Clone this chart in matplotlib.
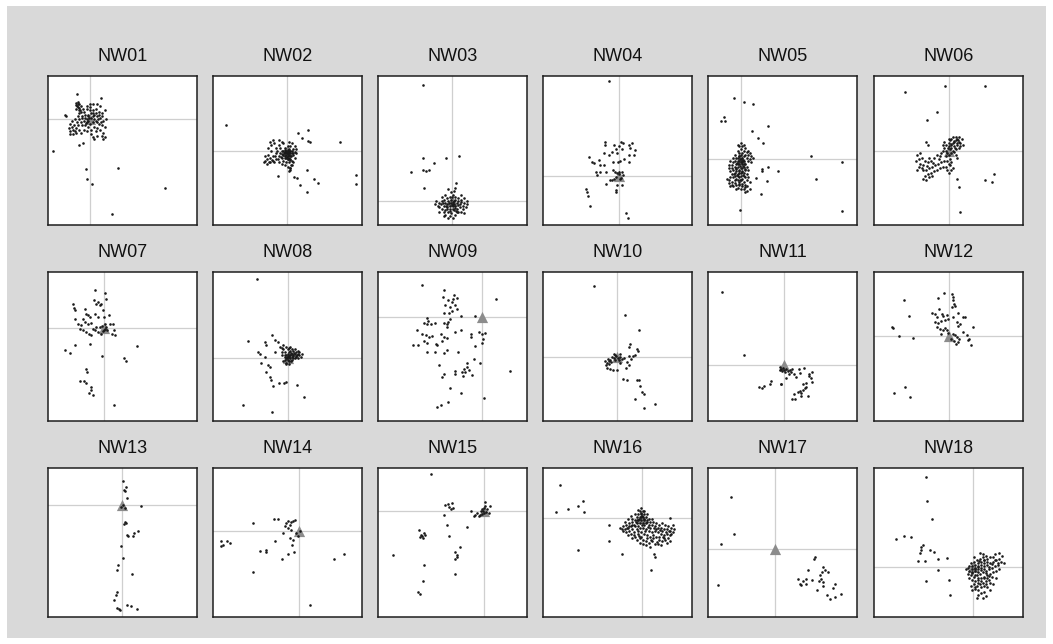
import matplotlib.pyplot as plt
from matplotlib.patches import Rectangle

# panel names and crosshair centre (x, y) of each panel, y counted from the top
names = ["NW%02d" % i for i in range(1, 19)]
centres = [(28.2, 29.0), (49.9, 50.4), (49.8, 83.7), (50.8, 67.2), (22.3, 55.8), (50.4, 50.4),
           (37.6, 37.6), (50.3, 57.7), (69.9, 30.2), (49.7, 57.0), (50.7, 62.6), (50.3, 43.2),
           (49.7, 25.1), (57.5, 42.5), (71.4, 28.6), (66.4, 33.3), (45.3, 54.4), (66.4, 66.4)]

nw01 = [(19, 18), (20, 19), (19.5, 20), (21, 19), (20, 21), (21, 21.5), (22, 20), (19, 22), (20.5, 23),
        (21.5, 22.5), (18.5, 19.5), (22, 24), (20, 17.5), (24, 24), (26, 22), (28, 21), (30, 23), (32, 22),
        (34, 24), (36, 25), (38, 23), (35, 28), (37, 30), (39, 29), (33, 27), (31, 26), (29, 25), (27, 27),
        (25, 28), (23, 27), (24, 30), (26, 31), (28, 32), (30, 31), (32, 30), (34, 32), (36, 33), (38, 34),
        (35, 36), (33, 35), (31, 34), (29, 36), (27, 34), (25, 33), (23, 33), (22, 31), (21, 29), (20, 27),
        (18, 29), (16, 30), (15, 32), (16, 34), (17, 36), (15, 37), (14, 35), (18, 37), (19, 38), (17, 39),
        (15, 39), (20, 33), (19, 35), (21, 36), (29, 39), (30, 41), (31, 42), (33, 40), (36, 40), (37, 38),
        (38, 41), (37, 42), (26, 37), (24, 36), (22, 38), (27, 30), (29, 28), (30, 27), (27, 26), (26, 29),
        (31, 29), (28, 23), (32, 25), (34, 26), (36, 27), (33, 31), (12, 27), (35, 20), (33, 19), (28, 19),
        (26, 20), (30, 19), (22.5, 28), (24.5, 26), (27.5, 28.5), (30.5, 25), (33.5, 29), (25.5, 31.5),
        (19.5, 31), (17.5, 33), (20.5, 25), (23.5, 22), (35.5, 31), (32.5, 37), (19.7, 11.8), (35.3, 14.7),
        (11.6, 26), (3.6, 50), (20.8, 46.4), (23.5, 44.9), (25.3, 62.5), (26, 68.8), (29.8, 72.5),
        (47.2, 61.6), (78.7, 75.2), (43.2, 92.9)]

nw02 = [(50, 52), (51, 51), (52, 52), (49, 53), (50, 54), (52, 54), (53, 50), (51, 49), (49, 50), (48, 52),
        (47, 53), (48, 55), (50, 56), (52, 56), (54, 53), (55, 51), (54, 49), (52, 47), (50, 47), (48, 48),
        (46, 50), (45, 52), (44, 54), (46, 55), (47, 57), (49, 58), (51, 58), (53, 57), (55, 55), (56, 52),
        (53, 45), (51, 44), (47, 45), (44, 46), (42, 48), (41, 45), (40, 43), (38, 44), (42, 52), (40, 54),
        (38, 55), (37, 53), (36, 56), (35, 57), (34, 58), (36, 59), (38, 58), (40, 57), (42, 56), (44, 58),
        (46, 59), (48, 60), (50, 61), (52, 62), (53, 60), (49, 51), (51, 53), (50, 50), (52, 50), (48, 51),
        (51, 55), (49, 55), (53, 52), (47, 50), (45, 48), (43, 50), (39, 50), (37, 48), (41, 58), (35, 54),
        (54, 58), (55, 47), (56, 49), (52, 63), (51, 64), (44, 43), (46, 44), (39, 46), (49.5, 51.5),
        (50.5, 52.5), (51.5, 50.5), (48.5, 53.5), (50.5, 49.5), (52.5, 53.5), (49.5, 54.5), (51.5, 56.5),
        (47.5, 51.5), (53.5, 51.5), (50.5, 55.5), (48.5, 49.5), (46.5, 52.5), (45.5, 54.5), (43.5, 55.5),
        (41.5, 53.5), (39.5, 56.5), (37.5, 57.5), (8.5, 33), (56.9, 38), (64, 36.2), (59.6, 41.9),
        (63.6, 43.8), (65.2, 44.2), (85.4, 44.6), (43.8, 67.2), (54.6, 67.6), (56.2, 68.3), (62.9, 63.2),
        (58.4, 73.2), (68, 69.4), (70.8, 71.7), (63.4, 78.1), (96.2, 66.5), (96, 72.5), (52, 61.6),
        (52.6, 59.8)]

nw03 = [(50, 86), (48, 87), (46, 88), (44, 87), (42, 86), (45, 85), (47, 84), (49, 83), (51, 84), (53, 85),
        (55, 86), (57, 87), (58, 85), (56, 83), (54, 82), (52, 81), (50, 80), (48, 81), (46, 82), (44, 83),
        (43, 84), (41, 85), (40, 87), (41, 88), (43, 89), (45, 90), (47, 91), (49, 92), (51, 90), (53, 89),
        (55, 88), (57, 89), (59, 88), (60, 86), (54, 91), (52, 93), (48, 94), (45, 93), (44, 91), (50, 89),
        (52, 87), (54, 84), (49, 78), (51, 77), (47, 76), (52, 75), (45, 80), (43, 81), (39, 84), (38, 86),
        (56, 80), (58, 82), (60, 84), (49, 85), (50, 87), (51, 86), (48, 89), (46, 86), (52, 83), (53, 91),
        (56, 91), (58, 92), (44, 94), (47, 95), (50, 95), (41, 91), (49.5, 86.5), (47.5, 85.5), (51.5, 88.5),
        (45.5, 87.5), (53.5, 86.5), (48.5, 90.5), (50.5, 84.5), (46.5, 89.5), (52.5, 90.5), (55.5, 84.5),
        (43.5, 85.5), (49.5, 81.5), (30.1, 5.8), (30.1, 54.7), (45.8, 54.9), (54.2, 53.6), (37.5, 58.7),
        (21.9, 64.1), (30.4, 63.2), (32.1, 63.6), (34.2, 63.2), (30.6, 75.2), (52.2, 71.7)]

nw04 = [(41.4, 44.2), (41.8, 46.4), (47.7, 46), (52.3, 44.6), (53.7, 45.3), (50.8, 47.3), (49.2, 48.9),
        (52.8, 49.3), (57.5, 46), (59.7, 45.3), (58.6, 48.2), (62, 49.6), (61, 53.1), (57.5, 53.1),
        (57.5, 57.6), (54.1, 55.8), (49.7, 52), (46.3, 50.9), (44.5, 52.7), (40.7, 52), (37.4, 56.5),
        (38.5, 59.4), (40.7, 59.8), (47, 57.6), (50.6, 58), (51.9, 57.1), (35.3, 64.3), (36, 66.3),
        (38.5, 64.7), (42.1, 64.3), (47.2, 63.2), (48.3, 64.3), (49.4, 65.4), (51.2, 64.3), (52.8, 64.7),
        (53.5, 66.5), (50.8, 66.1), (49, 67.6), (47.9, 69.2), (46.3, 69.9), (49.4, 73.2), (49, 76.6),
        (48.8, 77.7), (52.8, 73.2), (42.4, 72.3), (45.2, 69.9), (51.9, 68.8), (52.3, 68.3), (44.1, 3.6),
        (28.9, 75.9), (29.5, 78.1), (30.4, 80.4), (31.3, 87.1), (55.9, 92.2), (57, 95.1), (30.6, 54.2),
        (33, 58), (34, 58.7)]

nw05 = [(22, 56), (21, 54), (23, 55), (24, 57), (20, 57), (19, 55), (21, 52), (23, 52), (25, 53), (26, 55),
        (27, 57), (25, 59), (23, 59), (21, 59), (19, 59), (18, 57), (17, 55), (18, 53), (20, 50), (22, 49),
        (24, 50), (26, 51), (27, 53), (28, 56), (29, 58), (26, 61), (24, 61), (22, 62), (20, 61), (18, 61),
        (16, 60), (17, 63), (19, 64), (21, 65), (23, 64), (25, 63), (27, 63), (26, 66), (24, 67), (22, 67),
        (20, 67), (18, 67), (16, 66), (15, 68), (14, 70), (16, 71), (18, 70), (20, 70), (22, 70), (24, 71),
        (26, 70), (25, 73), (23, 74), (21, 73), (19, 73), (17, 74), (19, 76), (22, 76), (24, 76), (26, 77),
        (14, 72), (13, 69), (15, 64), (14, 62), (23, 47), (25, 48), (21, 47), (20, 46), (22, 45), (24, 46),
        (27, 50), (28, 52), (30, 55), (29, 54), (22, 58), (20, 55), (24, 54), (21, 57), (23, 57), (22, 53),
        (20, 59), (24, 59), (19, 62), (23, 62), (21, 63), (17, 58), (15, 57), (14, 60), (16, 62), (18, 65),
        (20, 66), (22, 65), (24, 65), (25, 68), (27, 68), (28, 71), (21, 68), (19, 69), (17, 68), (23, 69),
        (26, 74), (16, 73), (15, 74), (28, 76), (25, 78), (21, 71), (20, 75), (18, 72), (21.5, 55.5),
        (22.5, 57.5), (20.5, 53.5), (23.5, 56.5), (19.5, 58.5), (21.5, 60.5), (23.5, 60.5), (20.5, 63.5),
        (22.5, 64.5), (18.5, 62.5), (24.5, 62.5), (19.5, 66.5), (21.5, 69.5), (23.5, 66.5), (17.5, 65.5),
        (20.5, 72.5), (22.5, 72.5), (24.5, 74.5), (17.2, 14.7), (24.1, 17.6), (30.1, 18.5), (10.5, 27.5),
        (8.9, 30.1), (11.2, 29.9), (40.2, 33.7), (29.2, 36.8), (33.5, 41.5), (36.8, 45.3), (68.8, 54),
        (89.7, 58), (40.2, 60.9), (46.7, 63.6), (36.2, 62.2), (36.2, 63.6), (31.9, 68.3), (39.3, 70.5),
        (72.3, 68.8), (35.9, 79.2), (21.4, 89.7), (89.7, 90.8)]

nw06 = [(50, 47), (52, 46), (53, 45), (54, 44), (55, 43), (56, 42), (57, 44), (58, 45), (56, 46), (54, 47),
        (52, 48), (51, 49), (53, 50), (55, 49), (57, 48), (54, 51), (52, 52), (50, 53), (49, 52), (48, 50),
        (47, 48), (48, 46), (50, 45), (51, 43), (52, 42), (53, 41), (50, 42), (55, 41), (57, 41), (59, 42),
        (46, 50), (45, 52), (44, 54), (42, 53), (40, 55), (38, 57), (37, 55), (36, 58), (34, 57), (33, 60),
        (31, 59), (30, 61), (33, 63), (35, 63), (37, 62), (39, 61), (41, 60), (43, 59), (45, 58), (47, 57),
        (49, 57), (51, 56), (52, 58), (50, 59), (48, 61), (46, 61), (44, 62), (42, 63), (40, 64), (38, 65),
        (36, 66), (34, 67), (33, 69), (35, 70), (37, 68), (39, 67), (29, 63), (28, 57), (30, 56), (32, 55),
        (29, 53), (31, 52), (51, 60), (49, 63), (52, 63), (50, 65), (53, 62), (48, 54), (55, 53), (56, 55),
        (58, 47), (60, 46), (47, 44), (46, 46), (53.5, 43.5), (55.5, 45), (51.5, 45.5), (49.5, 48),
        (54.5, 48.5), (56.5, 43), (43.5, 56), (39.5, 58.5), (35.5, 60.5), (32.5, 61.5), (20.8, 10.7),
        (47.5, 6.9), (74.8, 6.7), (42.6, 24.1), (35.9, 29.7), (34.8, 44.2), (36.4, 46), (55.8, 68.8),
        (57.1, 74.3), (58, 91.1), (80.6, 65.8), (74.8, 69.9), (79.5, 71.2)]

nw07 = [(31.8, 11.9), (38, 14.1), (38.7, 17.9), (33.6, 20.1), (34.7, 22.4), (30.9, 19), (32.4, 21.3),
        (35.8, 21.3), (36.9, 25.7), (16.8, 21.3), (17.5, 23.9), (17.9, 25.7), (24.6, 24.6), (25.7, 27.9),
        (26.8, 29), (27.9, 30.2), (23.5, 31.3), (31.3, 27.9), (33.6, 30.2), (37.6, 30.2), (40.9, 29),
        (17.9, 31.3), (20.1, 35.1), (22.4, 35.8), (21.3, 38), (23.5, 38.7), (25.7, 40.3), (27.5, 41.4),
        (28.6, 42.5), (30.2, 38), (32.4, 36.7), (34.7, 37.1), (36.2, 36.2), (38, 35.1), (39.1, 36.9),
        (39.8, 39.1), (36.9, 39.8), (35.8, 41.4), (33.6, 40.3), (31.3, 39.1), (41.4, 34.7), (43.6, 35.1),
        (44.1, 39.1), (44.7, 42.5), (42.9, 41.4), (29, 34.2), (26.8, 35.1), (24.6, 33.6), (37.6, 38.7),
        (38.5, 38), (11.6, 52.1), (14.5, 54.4), (17.9, 49.2), (28, 48.5), (36.2, 56.6), (60, 49.7),
        (51, 57.5), (52.6, 60), (25.7, 64.9), (26.2, 67.1), (21.3, 73.2), (24.2, 73.4), (25.7, 74.5),
        (29, 77.2), (28.6, 79.4), (27.4, 81), (30.4, 82.8), (44.3, 89.5)]

nw08 = [(50, 55), (51, 54), (52, 53), (53, 52), (54, 53), (55, 52), (56, 54), (57, 55), (58, 56), (56, 57),
        (54, 56), (52, 56), (50, 57), (49, 58), (48, 59), (47, 60), (49, 61), (51, 60), (53, 59), (55, 58),
        (57, 58), (59, 57), (53, 55), (51, 57), (49, 56), (48, 54), (47, 52), (46, 51), (45, 50), (47, 49),
        (49, 50), (51, 51), (52, 50), (50, 52), (48, 57), (46, 56), (52, 58), (54, 58), (55, 55), (53, 57),
        (50, 59), (51, 62), (49, 62), (57, 53), (58, 54), (60, 55), (46, 54), (51.5, 55.5), (53.5, 56.5),
        (55.5, 56.5), (52.5, 54.5), (50.5, 56.5), (54.5, 54.5), (56.5, 55.5), (49.5, 57.5), (48.5, 55.5),
        (52.5, 59.5), (29.5, 4.9), (23.5, 46.5), (39.6, 42.1), (34.7, 47), (35.8, 49.2), (41.4, 45.9),
        (43.6, 47), (30.2, 53.7), (31.3, 54.8), (34.7, 57), (32.4, 61.1), (36.9, 62.6), (38, 63.8),
        (35.8, 67.1), (38, 70.5), (39.1, 72.7), (40.3, 76.5), (44.1, 74.5), (47.7, 74.5), (49.2, 74.1),
        (56.4, 75.8), (41.4, 53.7), (20.3, 89.5), (39.7, 94), (61.2, 83.7)]

nw09 = [(29.2, 8.9), (44.6, 12.3), (43.8, 16.8), (46.9, 19), (50.4, 17.9), (51.3, 15.7), (53.1, 17.4),
        (49.8, 20.1), (45.3, 22.4), (48.2, 23.5), (52, 22.4), (52.7, 24.8), (44.2, 27.3), (47.5, 27.5),
        (49.8, 26.2), (55.4, 29.8), (65.4, 29.8), (79.2, 18.3), (33, 30.6), (33.5, 32.9), (30.8, 34),
        (32.6, 34.7), (35.3, 34.7), (38.2, 34.2), (44.6, 34.2), (46, 35.1), (46.9, 33.6), (48.2, 31.3),
        (46, 36.9), (52, 40.3), (55.4, 38.7), (25.9, 39.1), (29.2, 41.4), (31.9, 42.5), (34.2, 43.6),
        (36.4, 42.7), (42, 41.4), (44.2, 43.6), (46.4, 44.1), (62.1, 41.8), (62.1, 43.6), (67.6, 40.3),
        (69.9, 41.4), (71.7, 40.9), (70.5, 45.2), (70.1, 47.4), (23.7, 48.8), (27, 49.2), (30.8, 46.5),
        (33, 47.7), (38.6, 48.3), (39.7, 48.8), (43.1, 46.3), (46.4, 52.1), (65, 49.9), (33, 53.7),
        (38.2, 53.7), (44.2, 54.4), (53.6, 53.7), (64.3, 58.6), (68.3, 61.1), (40.8, 62.2), (59.4, 61.1),
        (59.8, 63.8), (57.6, 65.3), (56.5, 67.1), (58.7, 67.1), (60.9, 65.5), (52, 66.7), (52, 68.2),
        (57.1, 70), (44.6, 68.7), (43.1, 70.5), (63.2, 69.4), (88.6, 66.7), (48.2, 77.9), (55.7, 81),
        (42.6, 89.3), (47.3, 87), (39.7, 90.4), (71.3, 84.3)]

nw10 = [(34, 9.4), (54.8, 28.6), (64.2, 38.7), (58.2, 48.5), (57.6, 50.3), (63.1, 51.5), (63.8, 53.2),
        (62, 55.9), (60.4, 56.6), (57.6, 56.4), (58.8, 58.2), (56.4, 60.4), (57.6, 62.6), (55.4, 64.2),
        (51.9, 61.1), (50.8, 58.8), (48.5, 55.9), (47.4, 57.5), (46.3, 57), (45.2, 58.8), (44.1, 59.7),
        (43, 61.1), (42.5, 62.6), (43, 64.2), (45.2, 64.9), (47, 66), (49.7, 66), (53.9, 71.6), (56.2, 72.3),
        (63.1, 72.3), (64.7, 72.7), (65.3, 76.7), (66.7, 80.5), (49.2, 56.6), (50.1, 57.5), (51.9, 57),
        (53, 58.2), (54.1, 57.5), (48.1, 59.3), (45.9, 60.4), (43.6, 58.2), (44.3, 61.5), (41.6, 59.7),
        (51.5, 55.3), (47.4, 55.3), (67.9, 82.1), (61.6, 85), (67.9, 91), (75.5, 88.8)]

nw11 = [(9.4, 13.4), (23.9, 55.5), (48, 63.8), (49.1, 64.9), (50.2, 64.2), (51.3, 65.5), (52.5, 64.9),
        (53.6, 66.4), (55.1, 65.5), (55.8, 67.1), (54.2, 68.2), (56.5, 64.9), (52, 67.1), (49.8, 66.4),
        (48.4, 66), (58, 68.7), (59.2, 70.5), (61.4, 64.9), (61.8, 67.8), (64.7, 64.2), (67.6, 68.2),
        (68.1, 70), (69.9, 67.1), (69.9, 73.8), (63.6, 74.9), (65.8, 77.2), (63.6, 79.4), (61.8, 79.9),
        (42.4, 73.2), (41.3, 74.9), (37.5, 76.7), (34.2, 77.2), (49.1, 74.9), (36.4, 78.1), (57.6, 82.1),
        (60.6, 80.5), (62.7, 81), (64.8, 77.6), (66.1, 74.3), (69.1, 70.9), (58.5, 85.5), (56.4, 85),
        (62.7, 83.2), (66.9, 83.2), (48.7, 75.4), (52.1, 70.9)]

nw12 = [(47, 13.9), (52.1, 14.5), (52.8, 16.8), (53.3, 19), (53.7, 21.3), (52.1, 23.5), (54.4, 23),
        (43, 17.2), (20.4, 19), (23.5, 29.8), (12.3, 36.9), (13, 37.4), (17, 43), (26.4, 44.1), (38.7, 27.5),
        (41, 28.4), (43.8, 24.6), (45.4, 28.2), (46.5, 29.3), (48.8, 28.6), (42.1, 30.2), (41, 33.6),
        (43.2, 34.2), (44.7, 32.9), (47.7, 32.4), (49.9, 31.3), (52.8, 30.2), (56.6, 27.5), (59.9, 30.2),
        (61, 30.2), (55.5, 33.6), (57.7, 35.1), (56.6, 36.5), (42.1, 36.9), (44.3, 38), (46.1, 39.1),
        (47.7, 37.4), (48.8, 39.1), (49.9, 40.9), (45.2, 41.4), (52.8, 41.4), (54.4, 42.5), (55.7, 43.6),
        (57.3, 44.7), (56.6, 47), (53.9, 46.3), (51.7, 44.7), (55.3, 48.5), (62.6, 42.5), (63.8, 44.7),
        (63.1, 45.9), (65.3, 48.8), (66.6, 36.9), (59.9, 40.3), (20.5, 77), (13.6, 81.2), (24.2, 83.9)]

nw13 = [(50.3, 8.9), (50.8, 14.5), (52.6, 13), (51.5, 15.2), (53.2, 20.1), (50.3, 24.6), (51.5, 26.8),
        (49.2, 26.4), (62.2, 25.5), (51.5, 36.2), (52.6, 36.9), (50.8, 37.4), (53.2, 44.7), (53.7, 45.9),
        (57.7, 43.6), (60.4, 42.5), (57, 45.9), (49.2, 52.6), (50.6, 60.2), (47.3, 65.3), (46.4, 68.7),
        (56.5, 71.4), (46.4, 83.2), (45.6, 85.5), (44.3, 88.8), (47.7, 94.4), (48.5, 95.1), (46.4, 93.7),
        (52.7, 91.7), (55.7, 92.6), (59.9, 94.9)]

nw14 = [(26.8, 36.9), (40.9, 34.2), (43.4, 34.2), (48.1, 39.1), (49.2, 36.9), (50.3, 35.8), (51.5, 38),
        (52.6, 36.2), (53.7, 35.3), (54.8, 34.7), (50.3, 40.3), (52.6, 41.4), (47, 43.6), (55.9, 43.6),
        (58.2, 42.5), (57, 45.9), (51.5, 47), (53.7, 48.1), (41.4, 49.2), (53, 51.5), (5.6, 49.2),
        (6.7, 51.9), (9.2, 48.8), (11.4, 50.3), (5.1, 52.6), (31.8, 55.9), (35.6, 54.8), (35.6, 56.6),
        (50.3, 57.7), (54.4, 56.6), (87.9, 57.7), (46, 60.9), (81, 61.3), (27, 69.8), (65.4, 92.2)]

nw15 = [(35.3, 3.8), (45.3, 24.6), (46.9, 24.1), (49.8, 23.5), (47.5, 26.4), (50.4, 26.8), (49.1, 27.3),
        (44.2, 31.8), (46.4, 38.5), (59.8, 39.8), (62.1, 29.1), (64.3, 32.4), (65.4, 31.3), (66.5, 30.2),
        (67.6, 32.4), (68.8, 29.1), (69.9, 27.7), (71, 26.6), (72.1, 25.5), (73.2, 27.7), (72.8, 29.5),
        (71.4, 30), (69.9, 30.9), (68.3, 31.3), (72.1, 22.8), (75.4, 25.5), (74.3, 30.2), (70.5, 29.1),
        (27.2, 41.6), (28.6, 44.7), (29.7, 45.9), (30.8, 43.6), (30.4, 47), (31.3, 45.2), (28.1, 46.5),
        (47.5, 45.9), (54.7, 53), (52, 56.4), (52.7, 58.6), (10, 58.6), (31.2, 65.3), (51.9, 70.9),
        (30, 75.8), (27, 83.2), (28.3, 84.3), (51.5, 60.9), (53.2, 59.7)]

nw16 = [(66, 27), (65, 29), (67, 29), (64, 31), (66, 31), (68, 31), (63, 33), (65, 33), (67, 33), (69, 33),
        (62, 35), (64, 35), (66, 35), (68, 35), (70, 35), (72, 36), (60, 36), (58, 37), (56, 38), (54, 39),
        (53, 41), (55, 41), (57, 40), (59, 39), (61, 38), (63, 37), (65, 37), (67, 37), (69, 37), (71, 38),
        (73, 38), (75, 39), (77, 40), (79, 40), (81, 41), (83, 41), (85, 42), (86, 40), (87, 38), (84, 39),
        (82, 38), (80, 37), (78, 38), (76, 37), (74, 36), (71, 34), (73, 34), (62, 39), (60, 41), (58, 42),
        (56, 43), (54, 42), (57, 45), (59, 44), (61, 43), (63, 41), (65, 40), (67, 40), (69, 41), (71, 42),
        (73, 43), (75, 42), (77, 43), (79, 44), (81, 45), (83, 44), (85, 45), (86, 44), (84, 47), (82, 48),
        (80, 49), (78, 48), (76, 46), (74, 45), (72, 46), (70, 45), (68, 44), (66, 43), (64, 44), (62, 46),
        (60, 47), (63, 48), (65, 47), (67, 48), (69, 49), (71, 50), (73, 49), (75, 51), (77, 51), (79, 52),
        (67, 51), (65, 50), (70, 47), (72, 40), (68, 38), (64, 39), (66, 46), (61, 45), (58, 39), (55, 36),
        (60, 34), (62, 31), (64, 28), (68, 29), (70, 31), (57, 34), (59, 32), (52, 40), (78, 46), (83, 50),
        (85, 49), (88, 41), (87, 43), (80, 42), (76, 41), (74, 47), (69, 52), (72, 53), (81, 47), (63, 35),
        (66, 33), (65.5, 30), (66.5, 32), (64.5, 34), (67.5, 34.5), (62.5, 36.5), (69.5, 36), (70.5, 39.5),
        (66.5, 38.5), (63.5, 42.5), (68.5, 42.5), (74.5, 40.5), (78.5, 41.5), (82.5, 43), (59.5, 38),
        (56.5, 40.5), (72.5, 48), (76.5, 49.5), (80.5, 46.5), (84.5, 42.5), (64.5, 45.5), (11.6, 11.6),
        (8.9, 29.8), (16.8, 27.5), (23.3, 25.3), (26.8, 22.4), (27.3, 29.5), (44.1, 38.5), (44.1, 49.2),
        (23.7, 54.8), (53, 57.5), (85.5, 33.6), (74.3, 57.5), (75.1, 59.7), (72.6, 68.2)]

nw17 = [(15.6, 19.5), (17.2, 44.1), (8.5, 51), (6.8, 78.7), (71.9, 59.7), (71.2, 60.9), (66.9, 68.7),
        (77.5, 66.4), (78.8, 68.7), (76.7, 69.8), (75.4, 72), (66.1, 74.3), (64, 75.8), (61.9, 77.6),
        (65.7, 77.6), (69.9, 75.4), (74.2, 75.8), (77.5, 76.5), (85.2, 78.1), (83.9, 80.3), (77.5, 79.4),
        (73.3, 82.1), (79.7, 85.5), (81.8, 87.7), (85.2, 86.6), (89.4, 84.8), (62.7, 78.7), (60.6, 74.3),
        (75.8, 74.3), (80.5, 69.8)]

nw18 = [(66, 66), (68, 65), (70, 64), (72, 63), (74, 62), (76, 61), (78, 60), (75, 59), (73, 60), (71, 61),
        (69, 62), (67, 63), (65, 64), (64, 66), (63, 67), (64, 69), (66, 70), (68, 69), (70, 68), (72, 67),
        (74, 66), (76, 65), (78, 64), (80, 63), (82, 62), (80, 60), (84, 61), (85, 63), (83, 65), (81, 66),
        (79, 67), (77, 68), (75, 69), (73, 70), (71, 71), (69, 72), (67, 73), (65, 72), (64, 74), (66, 75),
        (68, 76), (70, 75), (72, 74), (74, 73), (76, 72), (78, 71), (80, 70), (82, 69), (84, 68), (79, 73),
        (77, 75), (75, 76), (73, 77), (71, 78), (69, 79), (67, 78), (68, 81), (70, 82), (72, 80), (74, 79),
        (76, 80), (72, 84), (70, 85), (66, 82), (65, 79), (74, 83), (78, 77), (76, 74), (70, 70), (68, 67),
        (66, 68), (72, 65), (70, 66), (74, 64), (76, 63), (71, 57), (73, 58), (67, 60), (81, 58), (84, 57),
        (86, 59), (87, 64), (63, 71), (62, 68), (75, 86), (69, 87), (73, 87), (78, 82), (80, 78), (82, 74),
        (67.5, 67.5), (69.5, 66.5), (71.5, 68.5), (73.5, 67.5), (75.5, 70.5), (77.5, 66.5), (79.5, 64.5),
        (81.5, 61.5), (65.5, 70.5), (67.5, 71.5), (69.5, 74), (71.5, 76), (73.5, 73.5), (77.5, 72.5),
        (75.5, 78), (69.5, 77), (67.5, 80), (83.5, 63.5), (73.5, 61.5), (70.5, 62.5), (34.9, 6), (35.3, 21.9),
        (38.9, 34.2), (14.5, 47.4), (20.4, 45.9), (24.8, 46.3), (31.3, 53), (33.1, 51.5), (31.5, 55.3),
        (37.6, 55.3), (40.5, 56.6), (30.9, 57), (29.7, 62.6), (33.9, 62.6), (43.2, 60.9), (48.7, 60.4),
        (43.2, 68.2), (34.7, 75.8), (50, 75.4), (50.8, 85.5)]

panels = [nw01, nw02, nw03, nw04, nw05, nw06, nw07, nw08, nw09,
          nw10, nw11, nw12, nw13, nw14, nw15, nw16, nw17, nw18]

W, H = 1053, 644
fig = plt.figure(figsize=(W / 100, H / 100), dpi=100)
fig.patch.set_facecolor("white")
# grey backdrop behind all panels
backdrop = Rectangle((7 / W, 6 / H), 1039 / W, 632 / H, transform=fig.transFigure,
                     facecolor="#d9d9d9", edgecolor="none", zorder=-10)
fig.add_artist(backdrop)

col_left = [48, 213, 378, 543, 708, 874]
row_top = [76, 272, 468]
size = 149

for i, (name, pts, (cx, cy)) in enumerate(zip(names, panels, centres)):
    r, c = divmod(i, 6)
    ax = fig.add_axes([col_left[c] / W, (H - row_top[r] - size) / H, size / W, size / H])
    ax.set_xlim(0, 100)
    ax.set_ylim(100, 0)
    ax.set_xticks([])
    ax.set_yticks([])
    for s in ax.spines.values():
        s.set_color("#1e1e1e")
        s.set_linewidth(1.1)
    ax.axvline(cx, color="#cfcfcf", lw=0.9, zorder=1)
    ax.axhline(cy, color="#cfcfcf", lw=0.9, zorder=1)
    ax.scatter([cx], [cy], marker="^", s=65, color="#8c8c8c", linewidths=0, zorder=2)
    xs = [p[0] for p in pts]
    ys = [p[1] for p in pts]
    ax.scatter(xs, ys, s=3.5, color="#1a1a1a", linewidths=0, zorder=3)
    ax.set_title(name, fontsize=13, family="Liberation Sans", color="#111111", pad=11)

fig.savefig("out.png", dpi=100)
